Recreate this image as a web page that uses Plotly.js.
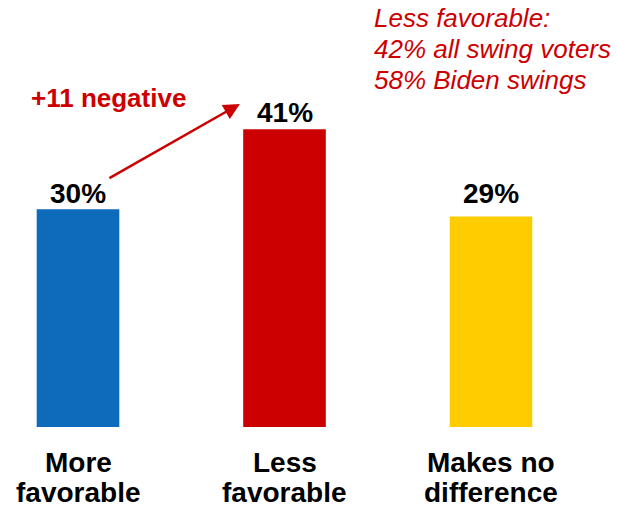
<!DOCTYPE html>
<html>
<head>
<meta charset="utf-8">
<script src="https://cdn.plot.ly/plotly-3.0.1.min.js"></script>
<style>html,body{margin:0;padding:0;background:#fff;}#chart{width:618px;height:508px;}</style>
</head>
<body>
<div id="chart"></div>
<script>
const categories = ["More<br>favorable", "Less<br>favorable", "Makes no<br>difference"];
const values = [30, 41, 29];
const valueLabels = ["30%", "41%", "29%"];
const barColors = ["#0E6ABA", "#CC0000", "#FFCC00"];
const calloutLines = ["Less favorable:", "42% all swing voters", "58% Biden swings"];
const changeLabel = "+11 negative";

const FONT = "Liberation Sans, Arial, sans-serif";
const W = 618, H = 508, B = 81;
const plotH = H - B;
const pxPerUnit = 206.5;
const r0 = -78 / pxPerUnit;
const pxY = (py) => (plotH - py) / plotH;   // page pixel y -> paper y
const xIdx = categories.map((_, i) => i);

const annotations = [];
// category labels, one annotation per line
categories.forEach((c, i) => {
  c.split("<br>").forEach((line, j) => {
    annotations.push({
      x: i, xref: "x", y: 0, yref: "paper", yanchor: "middle", xanchor: "center",
      yshift: -(35 + 30 * j), height: 26, valign: "middle", borderpad: 0,
      text: "<b>" + line + "</b>", showarrow: false,
      font: {family: FONT, size: 28, color: "#000"}
    });
  });
});
// value labels
const vShift = [16, 17, 23];
values.forEach((v, i) => {
  annotations.push({
    x: i, y: v, xref: "x", yref: "y", yanchor: "middle", xanchor: "center", yshift: vShift[i],
    text: "<b>" + valueLabels[i] + "</b>", showarrow: false,
    font: {family: FONT, size: 28, color: "#000"}
  });
});
// arrow
annotations.push({
  x: 0.784, y: 44.5, xref: "x", yref: "y", ax: -132, ay: 75, axref: "pixel", ayref: "pixel",
  text: "", showarrow: true, arrowhead: 2, arrowsize: 1.3, arrowwidth: 2.5, arrowcolor: "#CC0000"
});
// +11 negative
annotations.push({
  x: 109 / W, y: pxY(98), xref: "paper", yref: "paper", xanchor: "center", yanchor: "middle",
  text: "<b>" + changeLabel + "</b>", showarrow: false,
  font: {family: FONT, size: 26, color: "#CC0000"}
});
// callout lines
calloutLines.forEach((line, j) => {
  annotations.push({
    x: 372 / W, y: pxY(18 + 31 * j), xref: "paper", yref: "paper", xanchor: "left", yanchor: "middle",
    text: "<i>" + line + "</i>", showarrow: false, align: "left",
    font: {family: FONT, size: 26, color: "#CC0000"}
  });
});

const trace = {
  type: "bar", x: xIdx, y: values, width: 0.4,
  marker: {color: barColors, line: {width: 0}},
  hoverinfo: "none"
};

const layout = {
  width: W, height: H,
  margin: {l: 0, r: 0, t: 0, b: B},
  paper_bgcolor: "#fff", plot_bgcolor: "#fff",
  showlegend: false,
  xaxis: {range: [r0, r0 + W / pxPerUnit], showticklabels: false, showgrid: false, zeroline: false, showline: false, ticks: ""},
  yaxis: {range: [0, plotH / 7.26], showticklabels: false, showgrid: false, zeroline: false, showline: false, ticks: ""},
  annotations: annotations
};

Plotly.newPlot("chart", [trace], layout, {displayModeBar: false, staticPlot: true});
</script>
</body>
</html>
